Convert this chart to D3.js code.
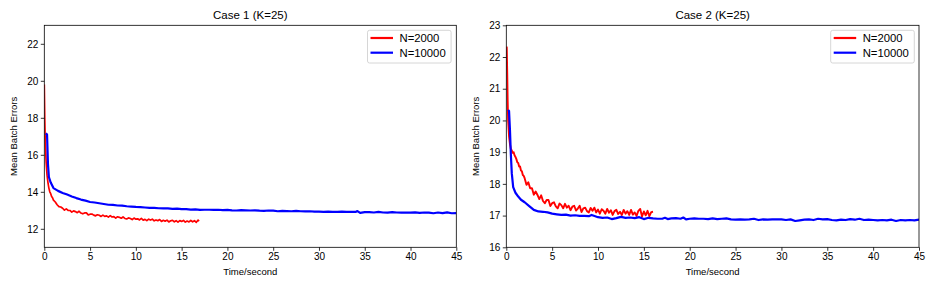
<!DOCTYPE html>
<html><head><meta charset="utf-8">
<script src="https://cdn.jsdelivr.net/npm/d3@7"></script>
<style>body{margin:0;background:#fff}svg{display:block}text{font-family:"Liberation Sans",Arial,sans-serif;fill:#000}</style>
</head><body><svg id="c" width="936" height="288"></svg>
<script>
const xTicks = [0,5,10,15,20,25,30,35,40,45];
const seriesNames = ["N=2000","N=10000"];
const colors = ["#ff0000","#0000ff"];

// Case 1
const c1RedT = [0,0.05,0.1,0.2,0.3,0.4,0.5,0.6,0.7,0.8,0.9,1.0,1.2,1.4,1.6,1.8,2.0,2.2,2.4,2.6,2.8,3.0,3.2,3.4,3.6,3.8,4.0,4.2,4.4,4.6,4.8,5.0,5.2,5.4,5.6,5.8,6.0,6.2,6.4,6.6,6.8,7.0,7.2,7.4,7.6,7.8,8.0,8.2,8.4,8.6,8.8,9.0,9.2,9.4,9.6,9.8,10.0,10.2,10.4,10.6,10.8,11.0,11.2,11.4,11.6,11.8,12.0,12.2,12.4,12.6,12.8,13.0,13.2,13.4,13.6,13.8,14.0,14.2,14.4,14.6,14.8,15.0,15.2,15.4,15.6,15.8,16.0,16.2,16.4,16.6,16.8,16.9];
const c1RedV = [19.8,18.0,16.8,15.6,14.9,14.5,14.2,14.0,13.9,13.75,13.68,13.55,13.45,13.3,13.2,13.18,13.11,13.01,13.08,12.99,12.99,12.90,12.97,12.93,12.87,12.95,12.85,12.81,12.86,12.86,12.75,12.79,12.80,12.74,12.70,12.76,12.73,12.67,12.74,12.67,12.70,12.63,12.71,12.64,12.66,12.58,12.65,12.62,12.57,12.64,12.56,12.53,12.59,12.56,12.50,12.58,12.52,12.54,12.48,12.56,12.47,12.51,12.44,12.52,12.47,12.52,12.43,12.48,12.44,12.50,12.40,12.46,12.41,12.47,12.37,12.43,12.46,12.38,12.44,12.36,12.44,12.40,12.45,12.36,12.42,12.37,12.45,12.38,12.44,12.35,12.47,12.41];
const c1BlueT = [0.15,0.3,0.4,0.5,0.7,1.0,1.5,2.0,2.5,3.0,3.5,4.0,4.5,5.0,5.5,6.0,6.5,7.0,7.5,8.0,8.5,9.0,9.5,10,10.5,11,11.5,12,12.5,13,13.5,14,14.5,15,15.5,16,16.5,17,17.5,18,18.5,19,19.5,20,20.5,21,21.5,22,22.5,23,23.5,24,24.5,25,25.5,26,26.5,27,27.5,28,28.5,29,29.5,30,30.5,31,31.5,32,32.5,33,33.5,34,34.2,34.5,35,35.5,36,36.5,37,37.5,38,38.5,39,39.5,40,40.5,41,41.5,42,42.5,43,43.5,44,44.5,45];
const c1BlueV = [17.15,17.1,15.5,14.8,14.5,14.2,14.05,13.94,13.85,13.75,13.66,13.58,13.52,13.45,13.42,13.38,13.34,13.3,13.29,13.26,13.25,13.22,13.2,13.18,13.17,13.15,13.13,13.13,13.11,13.1,13.1,13.08,13.09,13.06,13.06,13.04,13.05,13.02,13.03,13.03,13.02,13.03,13.01,13.02,13.0,12.99,13.01,13.0,12.99,13.0,12.98,12.97,12.99,12.98,12.95,12.97,12.96,12.95,12.97,12.95,12.94,12.95,12.93,12.93,12.92,12.93,12.92,12.91,12.93,12.91,12.92,12.91,12.96,12.86,12.9,12.9,12.88,12.91,12.88,12.87,12.9,12.88,12.87,12.88,12.87,12.89,12.86,12.88,12.87,12.84,12.88,12.85,12.89,12.84,12.85];

// Case 2
const c2RedT = [0,0.05,0.1,0.15,0.2,0.3,0.4,0.5,0.6,0.7,0.8,0.9,1.0,1.1,1.2,1.3,1.4,1.5,1.6,1.7,1.8,1.9,2.0,2.2,2.4,2.6,2.8,3.0,3.2,3.4,3.6,3.8,4.0,4.2,4.4,4.6,4.8,5.0,5.2,5.4,5.6,5.8,6.0,6.2,6.4,6.6,6.8,7.0,7.2,7.4,7.6,7.8,8.0,8.2,8.4,8.6,8.8,9.0,9.2,9.4,9.6,9.8,10.0,10.2,10.4,10.6,10.8,11.0,11.2,11.4,11.6,11.8,12.0,12.2,12.4,12.6,12.8,13.0,13.2,13.4,13.6,13.8,14.0,14.2,14.4,14.6,14.8,15.0,15.2,15.4,15.6,15.8,16.0];
const c2RedV = [22.33,22.3,21.5,20.6,20.0,19.5,19.25,19.1,19.05,18.98,19.0,18.9,18.85,18.78,18.68,18.66,18.55,18.55,18.42,18.4,18.28,18.25,18.18,17.97,18.05,17.86,17.86,17.66,17.76,17.65,17.52,17.64,17.46,17.39,17.49,17.49,17.30,17.39,17.42,17.29,17.23,17.38,17.33,17.23,17.37,17.25,17.31,17.17,17.28,17.31,17.16,17.22,17.31,17.11,17.23,17.25,17.14,17.10,17.24,17.15,17.25,17.10,17.19,17.06,17.20,17.15,17.06,17.21,17.09,17.17,17.02,17.14,17.18,17.05,17.12,17.02,17.18,17.06,17.14,17.02,17.18,17.03,17.10,16.99,17.15,17.21,16.97,17.13,17.01,17.15,16.98,17.11,17.12];
const c2BlueT = [0.2,0.3,0.4,0.5,0.6,0.75,1.0,1.3,1.6,2.0,2.5,3.0,3.5,4.0,4.5,5.0,5.5,6.0,6.5,7,7.5,8,8.5,9,9.3,9.7,10,10.5,11,11.5,12,12.5,13,13.5,14,14.5,15,15.5,16,16.5,17,17.3,17.6,18,18.5,19,19.3,19.6,20,20.5,21,21.5,22,22.5,23,23.5,24,24.5,25,25.5,26,26.5,27,27.5,28,28.5,29,29.5,30,30.5,31,31.5,32,32.5,33,33.5,34,34.5,35,35.5,36,36.5,37,37.5,38,38.5,39,39.5,40,40.5,41,41.5,42,42.5,43,43.5,44,44.5,45];
const c2BlueV = [20.33,20.3,19.7,18.9,18.33,17.9,17.72,17.6,17.5,17.42,17.3,17.18,17.13,17.12,17.1,17.06,17.04,17.02,17.03,17.0,17.01,16.99,16.99,16.98,17.02,16.98,16.95,16.93,16.94,16.89,16.92,16.96,16.93,16.94,16.92,16.95,16.89,16.93,16.91,16.9,16.9,16.93,16.89,16.91,16.92,16.9,16.94,16.88,16.9,16.91,16.9,16.9,16.89,16.91,16.89,16.9,16.91,16.88,16.87,16.88,16.87,16.88,16.9,16.86,16.88,16.87,16.88,16.88,16.88,16.86,16.88,16.83,16.85,16.87,16.88,16.86,16.9,16.88,16.89,16.86,16.85,16.87,16.86,16.89,16.87,16.9,16.86,16.87,16.86,16.85,16.86,16.85,16.87,16.83,16.86,16.85,16.86,16.85,16.87];

const panels = [
  {title:"Case 1 (K=25)", x0:44.3, x1:456.3, yDom:[11,23], yTicks:[12,14,16,18,20,22], ylabX:13.5, leg:{x:367.5},
   series:[[c1RedT,c1RedV],[c1BlueT,c1BlueV]], rw:[1.7,2.2]},
  {title:"Case 2 (K=25)", x0:506.3, x1:919, yDom:[16,23], yTicks:[16,17,18,19,20,21,22,23], ylabX:475.5, leg:{x:830.7},
   series:[[c2RedT,c2RedV],[c2BlueT,c2BlueV]], rw:[1.9,2.2]}
];
const yTop=25.3, yBot=247.3;
const svg = d3.select("#c");
panels.forEach((p,pi)=>{
  const x = d3.scaleLinear().domain([0,45]).range([p.x0,p.x1]);
  const y = d3.scaleLinear().domain(p.yDom).range([yBot,yTop]);
  const g = svg.append("g");
  const cid="clip"+pi;
  g.append("clipPath").attr("id",cid).append("rect").attr("x",p.x0).attr("y",yTop).attr("width",p.x1-p.x0).attr("height",yBot-yTop);
  const line = d3.line().x(d=>x(d[0])).y(d=>y(d[1]));
  p.series.forEach((s,i)=>{
    const pts = s[0].map((t,j)=>[t,s[1][j]]);
    g.append("path").attr("d",line(pts)).attr("fill","none").attr("stroke",colors[i])
      .attr("stroke-width",p.rw[i]).attr("stroke-linejoin","round").attr("clip-path",`url(#${cid})`);
  });
  const xa = g.append("g").attr("transform",`translate(0,${yBot})`)
    .call(d3.axisBottom(x).tickValues(xTicks).tickSize(3.5).tickPadding(2.5));
  const ya = g.append("g").attr("transform",`translate(${p.x0},0)`)
    .call(d3.axisLeft(y).tickValues(p.yTicks).tickFormat(d3.format("d")).tickSize(3.5).tickPadding(2.5));
  [xa,ya].forEach(a=>{a.select(".domain").remove();a.selectAll("line").attr("stroke","#000").attr("stroke-width",0.8);
    a.selectAll("text").style("font-size","10px").attr("fill","#000");});
  g.append("rect").attr("x",p.x0).attr("y",yTop).attr("width",p.x1-p.x0).attr("height",yBot-yTop)
    .attr("fill","none").attr("stroke","#000").attr("stroke-width",0.8);
  g.append("text").attr("x",(p.x0+p.x1)/2).attr("y",19).attr("text-anchor","middle").style("font-size","11.5px").text(p.title);
  g.append("text").attr("x",(p.x0+p.x1)/2).attr("y",275).attr("text-anchor","middle").style("font-size","9.5px").text("Time/second");
  g.append("text").attr("transform",`translate(${p.ylabX},${(yTop+yBot)/2}) rotate(-90)`).attr("dy","0.35em")
    .attr("text-anchor","middle").style("font-size","9.5px").text("Mean Batch Errors");
  const lg = g.append("g").attr("transform",`translate(${p.leg.x},30.3)`);
  lg.append("rect").attr("width",83.6).attr("height",32.7).attr("rx",2).attr("fill","#fff").attr("fill-opacity",0.8)
    .attr("stroke","#ccc").attr("stroke-width",0.8);
  seriesNames.forEach((n,i)=>{
    const yy = 7.7 + i*14.7;
    lg.append("line").attr("x1",3).attr("x2",25.5).attr("y1",yy).attr("y2",yy).attr("stroke",colors[i]).attr("stroke-width",2.2);
    lg.append("text").attr("x",32).attr("y",yy).attr("dy","0.36em").style("font-size","11.3px").text(n);
  });
});
</script></body></html>
